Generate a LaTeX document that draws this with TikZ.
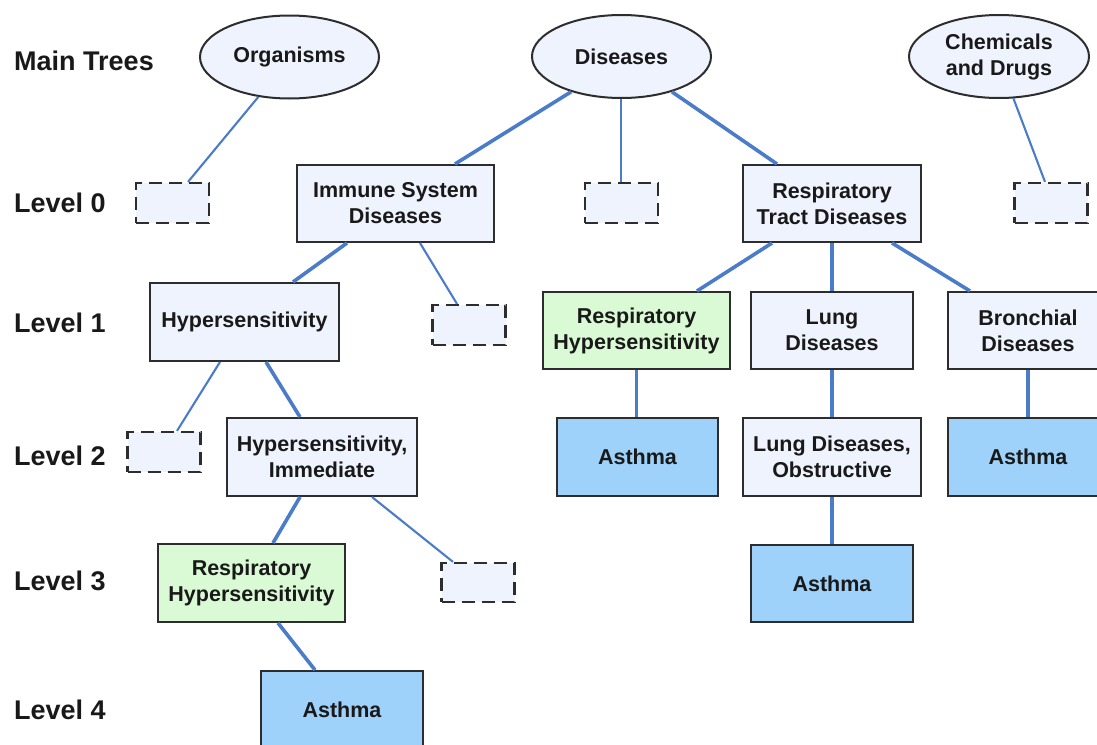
\documentclass[tikz,border=0pt]{standalone}
\usepackage{fontspec}
\setmainfont{Liberation Sans}
\usetikzlibrary{shapes.geometric,calc}
\definecolor{boxfill}{RGB}{239,243,253}
\definecolor{greenfill}{RGB}{217,250,212}
\definecolor{bluefill}{RGB}{158,210,250}
\definecolor{linkblue}{RGB}{74,124,201}
\definecolor{edge}{RGB}{45,45,45}
\definecolor{txt}{RGB}{25,25,25}
\tikzset{
  every node/.style={text=txt},
  nodefont/.style={font=\fontsize{21.5}{26}\selectfont\bfseries},
  lvl/.style={anchor=west, inner sep=0pt, font=\fontsize{27}{32}\selectfont\bfseries},
  topic/.style={ellipse, draw=edge, line width=2pt, fill=boxfill, inner sep=0pt,
     minimum width=179pt, minimum height=83pt, align=center, nodefont},
  term/.style={rectangle, draw=edge, line width=2pt, fill=boxfill, inner sep=0pt,
     minimum height=77pt, align=center, nodefont},
  termgreen/.style={term, fill=greenfill},
  termblue/.style={term, fill=bluefill},
  ghost/.style={rectangle, draw=edge, line width=2.2pt, fill=boxfill, dash pattern=on 13pt off 7pt,
     inner sep=0pt, minimum width=73pt, minimum height=40pt},
  strong/.style={draw=linkblue, line width=3.6pt},
  weak/.style={draw=linkblue, line width=2.1pt}
}
\begin{document}
\begin{tikzpicture}[x=1pt, y=-1pt]
\useasboundingbox[fill=white] (0,0) rectangle (1097,744);

% level labels
\node[lvl] (lmain) at (14,61) {Main Trees};
\node[lvl] (l0) at (14,203) {Level 0};
\node[lvl] (l1) at (14,323) {Level 1};
\node[lvl] (l2) at (14,456) {Level 2};
\node[lvl] (l3) at (14,581) {Level 3};
\node[lvl] (l4) at (14,710) {Level 4};

% main trees
\node[topic] (org) at (289.5,57) {Organisms};
\node[topic] (dis) at (621.5,56.5) {Diseases};
\node[topic, minimum width=180pt] (chem) at (999,56.5) {Chemicals\\and Drugs};

% level 0
\node[ghost] (d0a) at (172.5,203) {};
\node[term, minimum width=197pt] (immune) at (395.5,203.5) {Immune System\\Diseases};
\node[ghost] (d0b) at (621.5,203) {};
\node[term, minimum width=178pt] (resptract) at (832,203.5) {Respiratory\\Tract Diseases};
\node[ghost] (d0c) at (1051,203) {};

% level 1
\node[term, minimum width=189pt, minimum height=78pt] (hyp) at (244.5,322) {Hypersensitivity};
\node[ghost] (d1) at (469,325) {};
\node[termgreen, minimum width=187pt] (resphyp1) at (636.5,330.5) {Respiratory\\Hypersensitivity};
\node[term, minimum width=162pt] (lung) at (832,330.5) {Lung\\Diseases};
\node[term, minimum width=160pt] (bronch) at (1028,330.5) {Bronchial\\Diseases};

% level 2
\node[ghost] (d2) at (164,452) {};
\node[term, minimum width=190pt, minimum height=78pt] (hypimm) at (322,457) {Hypersensitivity,\\Immediate};
\node[termblue, minimum width=161pt, minimum height=78pt] (asthma1) at (637.5,457) {Asthma};
\node[term, minimum width=178pt, minimum height=78pt] (lungobs) at (832,457) {Lung Diseases,\\Obstructive};
\node[termblue, minimum width=160pt, minimum height=78pt] (asthma2) at (1028,457) {Asthma};

% level 3
\node[termgreen, minimum width=187pt, minimum height=78pt] (resphyp3) at (251.5,583) {Respiratory\\Hypersensitivity};
\node[ghost, minimum height=39pt] (d3) at (478,582.5) {};
\node[termblue, minimum width=162pt] (asthma3) at (832,583.5) {Asthma};

% level 4
\node[termblue, minimum width=162pt, minimum height=78pt] (asthma4) at (342,710) {Asthma};

% connectors
\draw[weak] (org.-128) -- ($(d0a.north)+(15.5,0)$);
\draw[strong] (dis.-145.4) -- ($(immune.north)+(59.5,0)$);
\draw[weak] ($(dis.south)+(-0.5,0)$) -- ($(d0b.north)+(-0.5,0)$);
\draw[strong] (dis.-35.1) -- ($(resptract.north)+(-55,0)$);
\draw[weak] (chem.-71.8) -- ($(d0c.north)+(-6,0)$);

\draw[strong] ($(immune.south)+(-48.5,0)$) -- ($(hyp.north)+(48.5,0)$);
\draw[weak] ($(immune.south)+(24.5,0)$) -- ($(d1.north)+(-12,0)$);
\draw[strong] ($(resptract.south)+(-60,0)$) -- ($(resphyp1.north)+(60.5,0)$);
\draw[strong] (resptract.south) -- (lung.north);
\draw[strong] ($(resptract.south)+(60,0)$) -- ($(bronch.north)+(-58,0)$);

\draw[weak] ($(hyp.south)+(-24.5,0)$) -- ($(d2.north)+(13,0)$);
\draw[strong] ($(hyp.south)+(21.5,0)$) -- ($(hypimm.north)+(-22,0)$);
\draw[strong] (resphyp1.south) -- (resphyp1.south |- asthma1.north);
\draw[strong] (lung.south) -- (lungobs.north);
\draw[strong] (bronch.south) -- (asthma2.north);

\draw[strong] ($(hypimm.south)+(-22,0)$) -- ($(resphyp3.north)+(21.5,0)$);
\draw[weak] ($(hypimm.south)+(50,0)$) -- ($(d3.north)+(-25,0)$);
\draw[strong] (lungobs.south) -- (asthma3.north);

\draw[strong] ($(resphyp3.south)+(26.5,0)$) -- ($(asthma4.north)+(-27,0)$);
\end{tikzpicture}
\end{document}
